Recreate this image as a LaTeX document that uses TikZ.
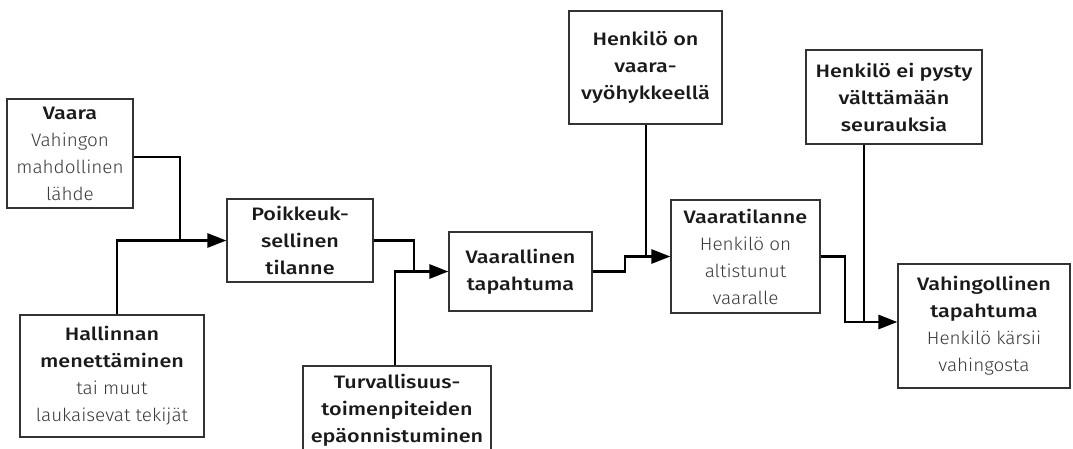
\documentclass[tikz,border=0pt]{standalone}
\usepackage{fontspec}
\setmainfont{Fira Sans}[UprightFont=* Light, BoldFont=* Medium,
  UprightFeatures={FakeStretch=1.05}, BoldFeatures={FakeStretch=1.2}]
\usetikzlibrary{arrows.meta}
\definecolor{txtdark}{HTML}{1A1A1A}
\definecolor{txtgray}{HTML}{3A3A3A}
\definecolor{boxline}{HTML}{333333}
\newcommand\hd[1]{\textbf{#1}}
\newcommand\gr[1]{{\color{txtgray}#1}}
\tikzset{
  box/.style={draw=boxline, line width=1.2pt, fill=white, align=center,
    inner sep=0pt, text=txtdark, font=\fontsize{18}{27}\selectfont},
  link/.style={draw=black, line width=2.8pt, line join=miter},
  feed/.style={link, -{Triangle[length=19pt,width=14pt]}}
}
\begin{document}
\begin{tikzpicture}[x=1pt,y=-1pt]
\useasboundingbox (0,0) rectangle (1073,448);
\clip (0,0) rectangle (1073,448);

% boxes: centre, width, height
\node[box, minimum width=126pt, minimum height=109pt] (vaara) at (70,153.5)
  {\hd{Vaara}\\\gr{Vahingon}\\\gr{mahdollinen}\\\gr{lähde}};
\node[box, minimum width=184pt, minimum height=122pt] (hall) at (112,376)
  {\hd{Hallinnan}\\\hd{menettäminen}\\\gr{tai muut}\\\gr{laukaisevat tekijät}};
\node[box, minimum width=146pt, minimum height=83pt] (poik) at (300,240.5)
  {\hd{Poikkeuk-}\\\hd{sellinen}\\\hd{tilanne}};
\node[box, minimum width=188pt, minimum height=88pt] (turv) at (397,410)
  {\hd{Turvallisuus-}\\\hd{toimenpiteiden}\\\hd{epäonnistuminen}};
\node[box, minimum width=143pt, minimum height=79pt] (vtap) at (520.5,271.5)
  {\hd{Vaarallinen}\\\hd{tapahtuma}};
\node[box, minimum width=153pt, minimum height=113pt] (vyo) at (645.5,67.5)
  {\hd{Henkilö on}\\\hd{vaara-}\\\hd{vyöhykkeellä}};
\node[box, minimum width=149pt, minimum height=113pt] (vtil) at (745.5,256.5)
  {\hd{Vaaratilanne}\\\gr{Henkilö on}\\\gr{altistunut}\\\gr{vaaralle}};
\node[box, minimum width=176pt, minimum height=94pt] (pysty) at (894,97)
  {\hd{Henkilö ei pysty}\\\hd{välttämään}\\\hd{seurauksia}};
\node[box, minimum width=172pt, minimum height=124pt] (vahi) at (984,326)
  {\hd{Vahingollinen}\\\hd{tapahtuma}\\\gr{Henkilö kärsii}\\\gr{vahingosta}};

% bends and junction points of the feeding lines
\coordinate (v1) at (180,157);
\coordinate (j1) at (180,240.5);
\coordinate (h1) at (117,240.5);
\coordinate (j2) at (414,271.5);
\coordinate (t2) at (395,271.5);
\coordinate (s3) at (625,271.5);
\coordinate (j3) at (646,256.5);
\coordinate (j4) at (845,322);
\coordinate (p4) at (864,322);

% stage 1
\draw[link] (vaara.east |- v1) -- (v1) -- (j1);
\draw[feed] (hall.north -| h1) -- (h1) -- (poik.west);
% stage 2
\draw[link] (poik.east) -| (j2);
\draw[feed] (turv.north -| t2) -- (t2) -- (vtap.west);
% stage 3
\draw[link] (vtap.east) -- (s3) |- (j3);
\draw[feed] (vyo.south -| j3) -- (j3) -- (vtil.west);
% stage 4
\draw[link] (vtil.east) -| (j4) -- (p4);
\draw[feed] (pysty.south -| p4) -- (p4) -- (vahi.west |- p4);
\end{tikzpicture}
\end{document}
